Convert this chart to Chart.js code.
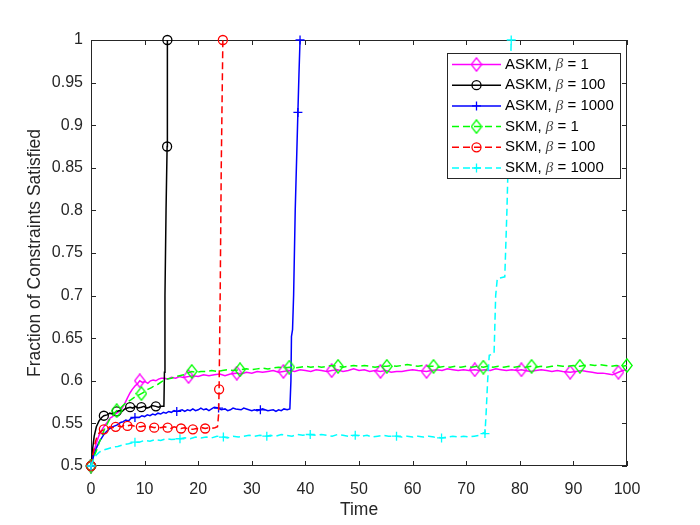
<!DOCTYPE html>
<html>
<head>
<meta charset="utf-8">
<script src="https://cdn.jsdelivr.net/npm/chart.js@4.4.1/dist/chart.umd.min.js"></script>
<style>
  body { margin: 0; background: #fff; }
</style>
</head>
<body>
<canvas id="myChart" width="700" height="525"></canvas>
<script>
// [time, fraction] pairs
const askm1 = [[0,0.500],[0.5,0.516],[1,0.527],[1.5,0.536],[2,0.542],[2.5,0.547],[3,0.551],[3.5,0.556],[4,0.558],[4.5,0.561],[5,0.563],[5.6,0.566],[6.2,0.572],[6.8,0.580],[7.3,0.586],[7.7,0.590],[8.2,0.594],[8.6,0.596],[9.1,0.600],[9.6,0.598],[10.1,0.599],[10.6,0.597],[11.1,0.600],[11.6,0.601],[12.1,0.600],[12.6,0.602],[13.1,0.603],[13.7,0.603],[14.3,0.602],[15,0.604],[15.8,0.603],[16.5,0.605],[17.2,0.604],[18.2,0.605],[19,0.606],[20,0.605],[21,0.607],[22,0.606],[23,0.607],[24,0.608],[25,0.606],[26,0.608],[27.2,0.609],[28,0.608],[29,0.610],[30,0.609],[31,0.611],[32,0.610],[33,0.611],[34,0.612],[35,0.610],[35.9,0.611],[37,0.612],[38,0.611],[39,0.613],[40,0.612],[41,0.611],[42,0.613],[43,0.612],[44,0.611],[44.9,0.612],[46,0.613],[47,0.611],[48,0.612],[49,0.614],[50,0.612],[51,0.613],[52,0.611],[53,0.612],[54,0.611],[55,0.612],[56,0.610],[57,0.611],[58,0.611],[59,0.612],[60,0.613],[61,0.612],[62.6,0.611],[63.5,0.612],[64.5,0.613],[65.5,0.612],[66.5,0.614],[67.5,0.613],[68.5,0.612],[69.5,0.613],[70.5,0.612],[71.6,0.613],[72.5,0.612],[73.5,0.613],[74.5,0.612],[75.5,0.614],[76.5,0.613],[77.5,0.612],[78.5,0.613],[79.5,0.612],[80.3,0.613],[81,0.612],[82,0.611],[83,0.612],[84,0.613],[85,0.612],[86,0.611],[87,0.612],[88,0.611],[89.4,0.610],[90.5,0.611],[91.5,0.612],[92.5,0.611],[93.5,0.610],[94.5,0.609],[95.5,0.609],[96.5,0.608],[97.3,0.607],[98.4,0.610],[99.2,0.612],[100,0.613]];
const askm100 = [[0,0.500],[0.3,0.520],[0.6,0.535],[1,0.546],[1.5,0.553],[2,0.557],[2.4,0.559],[3,0.560],[3.5,0.562],[4,0.561],[4.8,0.564],[5.3,0.565],[5.8,0.564],[6.3,0.567],[6.8,0.568],[7.3,0.569],[7.8,0.568],[8.3,0.570],[8.8,0.568],[9.4,0.569],[9.9,0.570],[10.4,0.568],[10.9,0.569],[11.4,0.571],[12.1,0.570],[12.6,0.569],[13.1,0.570],[13.6,0.570],[13.7,0.610],[13.8,0.700],[14.0,0.800],[14.2,0.875],[14.25,1.000]];
const askm1000 = [[0,0.500],[0.5,0.512],[1,0.521],[1.5,0.528],[2,0.533],[2.5,0.538],[3,0.541],[3.5,0.544],[4,0.546],[4.8,0.548],[5.5,0.551],[6,0.552],[6.5,0.554],[7,0.553],[7.5,0.556],[8.2,0.557],[9,0.557],[9.5,0.559],[10,0.558],[10.5,0.560],[11,0.559],[11.5,0.561],[12,0.560],[12.5,0.562],[13,0.561],[13.5,0.563],[14,0.562],[14.5,0.564],[15,0.563],[15.5,0.565],[16,0.564],[17,0.566],[17.5,0.564],[18,0.566],[18.5,0.565],[19,0.567],[19.5,0.565],[20,0.566],[20.5,0.568],[21,0.566],[21.5,0.567],[22,0.565],[22.5,0.567],[23,0.569],[23.8,0.568],[24.3,0.566],[25,0.567],[25.5,0.565],[26,0.566],[26.5,0.568],[27,0.567],[28,0.566],[28.5,0.568],[29,0.567],[30,0.565],[30.5,0.566],[31,0.565],[31.6,0.566],[32,0.567],[33,0.565],[34,0.566],[34.5,0.564],[35,0.566],[35.5,0.565],[36,0.567],[36.6,0.566],[37.1,0.567],[37.3,0.600],[37.4,0.652],[37.6,0.660],[37.8,0.700],[38.1,0.800],[38.6,0.915],[38.8,0.960],[39.0,1.000]];
const skm1 = [[0,0.500],[0.5,0.510],[1,0.518],[1.5,0.527],[2,0.535],[2.5,0.543],[3,0.549],[3.5,0.555],[4,0.559],[4.8,0.565],[5.5,0.568],[6.3,0.573],[7,0.576],[7.5,0.578],[8.2,0.581],[9.4,0.585],[10,0.587],[10.6,0.590],[11.3,0.592],[12,0.595],[12.5,0.596],[13.2,0.599],[14.1,0.602],[15,0.603],[15.8,0.605],[16.5,0.606],[17.3,0.607],[18,0.609],[18.8,0.611],[19.6,0.610],[20.5,0.611],[21.5,0.611],[22.5,0.612],[23.5,0.611],[24.5,0.612],[25.5,0.613],[26.5,0.612],[27.8,0.613],[29,0.614],[30,0.613],[31,0.614],[32,0.615],[33,0.614],[34,0.615],[35,0.616],[36,0.615],[37,0.616],[38,0.615],[39,0.616],[40,0.617],[41,0.616],[42,0.617],[43,0.616],[44,0.617],[45,0.618],[46.1,0.617],[47,0.616],[48,0.617],[49,0.618],[50,0.617],[51,0.618],[52,0.617],[53,0.616],[54,0.617],[55.2,0.617],[56,0.618],[57,0.617],[58,0.618],[59,0.619],[60,0.618],[61,0.617],[62,0.618],[63,0.617],[63.9,0.617],[65,0.616],[66,0.617],[67,0.616],[68,0.617],[69,0.616],[70,0.617],[71,0.616],[72,0.617],[73.2,0.616],[74,0.617],[75,0.616],[76,0.617],[77,0.616],[78,0.617],[79,0.616],[80,0.617],[81,0.616],[82.2,0.617],[83,0.616],[84,0.617],[85,0.616],[86,0.617],[87,0.618],[88,0.617],[89,0.617],[90,0.618],[91.2,0.617],[92,0.618],[93,0.619],[94,0.618],[95,0.619],[96,0.618],[97,0.617],[98,0.618],[99,0.617],[100,0.618]];
const skm100 = [[0,0.500],[0.4,0.515],[0.8,0.528],[1.2,0.536],[1.7,0.540],[2.4,0.543],[3,0.544],[3.5,0.546],[4,0.545],[4.6,0.546],[5.2,0.547],[5.7,0.546],[6.2,0.548],[6.8,0.547],[7.4,0.548],[8,0.547],[8.6,0.546],[9.3,0.546],[9.9,0.547],[10.5,0.545],[11.2,0.546],[11.8,0.545],[12.4,0.546],[13,0.545],[13.7,0.546],[14.3,0.545],[14.9,0.544],[15.5,0.546],[16.1,0.545],[16.8,0.544],[17.4,0.545],[18,0.544],[18.5,0.543],[19,0.543],[19.6,0.544],[20.2,0.543],[20.7,0.545],[21.3,0.544],[21.9,0.545],[22.5,0.544],[23.1,0.545],[23.6,0.546],[23.8,0.560],[23.9,0.590],[24.1,0.700],[24.3,0.850],[24.6,1.000]];
const skm1000 = [[0,0.500],[0.5,0.508],[1,0.513],[1.5,0.516],[2,0.518],[3,0.520],[4,0.522],[5,0.523],[6,0.525],[7,0.526],[8.2,0.528],[9,0.528],[10,0.530],[11,0.529],[12,0.531],[13,0.530],[14,0.532],[15,0.531],[16.6,0.532],[17.5,0.533],[18.5,0.532],[19.5,0.534],[20.5,0.533],[21.5,0.534],[22.5,0.533],[23.5,0.535],[24.7,0.534],[25.5,0.533],[26.5,0.535],[27.5,0.534],[28.5,0.535],[29.5,0.536],[30.5,0.535],[31.5,0.536],[32.8,0.535],[33.5,0.536],[34.5,0.535],[35.5,0.537],[36.5,0.536],[37.5,0.535],[38.5,0.537],[39.5,0.536],[40.9,0.537],[42,0.536],[43,0.537],[44,0.536],[45,0.535],[46,0.537],[47,0.536],[48,0.535],[49.3,0.536],[50.5,0.535],[51.5,0.536],[52.5,0.534],[53.5,0.535],[54.5,0.536],[55.5,0.535],[57,0.535],[58,0.534],[59,0.535],[60,0.534],[61,0.535],[62,0.534],[63,0.535],[64,0.534],[65.4,0.533],[66.5,0.534],[67.5,0.535],[68.5,0.534],[69.5,0.535],[70.5,0.534],[71.5,0.535],[72.5,0.536],[73.2,0.539],[73.5,0.538],[73.7,0.560],[74.0,0.600],[74.3,0.630],[75.2,0.632],[75.5,0.700],[75.8,0.720],[77.2,0.722],[77.6,0.800],[78.0,0.900],[78.4,1.000]];

// times where a marker sits on each curve
const askm1Marks = [0, 9.1, 18.2, 27.2, 35.9, 44.9, 54, 62.6, 71.6, 80.3, 89.4, 98.4];
const askm100Marks = [0, 2.4, 4.8, 7.3, 9.4, 12.1, 14.2, 14.25];
const askm1000Marks = [0, 8.2, 16, 23.8, 31.6, 38.6, 39.0];
const skm1Marks = [0, 4.8, 9.4, 18.8, 27.8, 37, 46.1, 55.2, 63.9, 73.2, 82.2, 91.2, 100];
const skm100Marks = [0, 2.4, 4.6, 6.8, 9.3, 11.8, 14.3, 16.8, 19, 21.3, 23.9, 24.6];
const skm1000Marks = [0, 8.2, 16.6, 24.7, 32.8, 40.9, 49.3, 57, 65.4, 73.5, 78.4];

const methods = ['ASKM', 'ASKM', 'ASKM', 'SKM', 'SKM', 'SKM'];
const betas = ['1', '100', '1000', '1', '100', '1000'];

const xTicks = [0, 10, 20, 30, 40, 50, 60, 70, 80, 90, 100];
const yTicks = [0.5, 0.55, 0.6, 0.65, 0.7, 0.75, 0.8, 0.85, 0.9, 0.95, 1];

const axisColor = '#262626';
const fontFamily = '"Liberation Sans", Arial, sans-serif';

const seriesList = [askm1, askm100, askm1000, skm1, skm100, skm1000];
const marksList = [askm1Marks, askm100Marks, askm1000Marks, skm1Marks, skm100Marks, skm1000Marks];
const colors = ['#ff00ff', '#000000', '#0000ff', '#00ff00', '#ff0000', '#00ffff'];
const markers = ['diamond', 'circle', 'plus', 'diamond', 'circle', 'plus'];
const dashes = [[], [], [], [7, 4], [7, 4], [7, 4]];

// matlab diamonds are a bit taller than wide, so draw them into a small canvas
function diamondImage(color) {
  const c = document.createElement('canvas');
  c.width = 12; c.height = 15;
  const g = c.getContext('2d');
  g.strokeStyle = color;
  g.lineWidth = 1.3;
  g.beginPath();
  g.moveTo(6, 0.8); g.lineTo(11.2, 7.5); g.lineTo(6, 14.2); g.lineTo(0.8, 7.5); g.closePath();
  g.stroke();
  return c;
}

function pointStyleOf(m, color) {
  if (m === 'diamond') return diamondImage(color);
  if (m === 'plus') return 'cross';
  return 'circle';
}
function radiusOf(m) {
  if (m === 'diamond') return 6;
  if (m === 'plus') return 4.5;
  return 4.5;
}

const datasets = seriesList.map((s, i) => ({
  label: methods[i] + ', \u03b2 = ' + betas[i],
  data: s.map(p => ({ x: p[0], y: p[1] })),
  borderColor: colors[i],
  borderWidth: 1.5,
  borderDash: dashes[i],
  pointStyle: pointStyleOf(markers[i], colors[i]),
  pointBorderColor: colors[i],
  pointBackgroundColor: 'rgba(0,0,0,0)',
  pointBorderWidth: 1.3,
  pointRadius: (c) => marksList[i].includes(c.raw.x) ? radiusOf(markers[i]) : 0,
  pointHoverRadius: 0,
  tension: 0,
  clip: false,
  order: 6 - i
}));

function drawMarker(ctx, kind, x, y, color) {
  ctx.save();
  ctx.strokeStyle = color;
  ctx.lineWidth = 1.3;
  ctx.setLineDash([]);
  if (kind === 'diamond') {
    ctx.drawImage(diamondImage(color), x - 6, y - 7.5);
    ctx.restore();
    return;
  }
  ctx.beginPath();
  const r = radiusOf(kind);
  if (kind === 'plus') {
    ctx.moveTo(x - r, y); ctx.lineTo(x + r, y); ctx.moveTo(x, y - r); ctx.lineTo(x, y + r);
  } else {
    ctx.arc(x, y, r, 0, Math.PI * 2);
  }
  ctx.stroke();
  ctx.restore();
}

// MATLAB style box with inward ticks on all four sides
const boxAxes = {
  id: 'boxAxes',
  beforeDatasetsDraw(chart) {
    const { ctx, chartArea: { left, right, top, bottom }, scales: { x, y } } = chart;
    ctx.save();
    ctx.strokeStyle = axisColor;
    ctx.lineWidth = 1;
    ctx.strokeRect(left + 0.5, top + 0.5, right - left - 1, bottom - top - 1);
    ctx.beginPath();
    xTicks.forEach(v => {
      const px = Math.round(x.getPixelForValue(v)) + 0.5;
      ctx.moveTo(px, bottom); ctx.lineTo(px, bottom - 5);
      ctx.moveTo(px, top); ctx.lineTo(px, top + 5);
    });
    yTicks.forEach(v => {
      const py = Math.round(y.getPixelForValue(v)) + 0.5;
      ctx.moveTo(left, py); ctx.lineTo(left + 5, py);
      ctx.moveTo(right, py); ctx.lineTo(right - 5, py);
    });
    ctx.stroke();
    ctx.restore();
  }
};

const matlabLegend = {
  id: 'matlabLegend',
  afterDraw(chart) {
    const ctx = chart.ctx;
    const bx = 447, by = 53, bw = 173, bh = 125;
    ctx.save();
    ctx.fillStyle = '#ffffff';
    ctx.fillRect(bx, by, bw, bh);
    ctx.strokeStyle = axisColor;
    ctx.lineWidth = 1;
    ctx.strokeRect(bx + 0.5, by + 0.5, bw, bh);
    methods.forEach((m, i) => {
      const yy = 64.5 + i * 20.7;
      ctx.strokeStyle = colors[i];
      ctx.lineWidth = 1.5;
      ctx.setLineDash(dashes[i]);
      ctx.beginPath();
      ctx.moveTo(452, yy); ctx.lineTo(501, yy);
      ctx.stroke();
      drawMarker(ctx, markers[i], 476.5, yy, colors[i]);
      ctx.fillStyle = '#000000';
      ctx.textBaseline = 'middle';
      ctx.textAlign = 'left';
      let tx = 505;
      ctx.font = '15px ' + fontFamily;
      const a = m + ', ';
      ctx.fillText(a, tx, yy);
      tx += ctx.measureText(a).width;
      ctx.font = 'italic 15px "Liberation Serif", serif';
      ctx.fillStyle = '#444444';
      ctx.fillText('\u03b2', tx, yy);
      tx += ctx.measureText('\u03b2').width;
      ctx.fillStyle = '#000000';
      ctx.font = '15px ' + fontFamily;
      ctx.fillText(' = ' + betas[i], tx, yy);
    });
    ctx.restore();
  }
};

new Chart(document.getElementById('myChart'), {
  type: 'line',
  data: { datasets: datasets },
  options: {
    responsive: false,
    animation: false,
    events: [],
    layout: { padding: { left: 0, top: 40, right: 73, bottom: 0 } },
    plugins: {
      legend: { display: false },
      tooltip: { enabled: false },
      title: { display: false }
    },
    scales: {
      x: {
        type: 'linear',
        min: 0,
        max: 100,
        afterBuildTicks: (axis) => { axis.ticks = xTicks.map(v => ({ value: v })); },
        afterFit: (axis) => { axis.height = 59; },
        grid: { display: false, drawTicks: false },
        border: { display: false },
        ticks: { color: axisColor, padding: 14, font: { family: fontFamily, size: 16 }, callback: (v) => String(v) },
        title: { display: true, text: 'Time', color: axisColor, font: { family: fontFamily, size: 17.5 }, padding: { top: 0, bottom: 4 } }
      },
      y: {
        type: 'linear',
        min: 0.5,
        max: 1,
        afterBuildTicks: (axis) => { axis.ticks = yTicks.map(v => ({ value: v })); },
        afterFit: (axis) => { axis.width = 91; },
        grid: { display: false, drawTicks: false },
        border: { display: false },
        ticks: { color: axisColor, padding: 8, font: { family: fontFamily, size: 16 }, callback: (v) => String(+v.toFixed(2)) },
        title: { display: true, text: 'Fraction of Constraints Satisfied', color: axisColor, font: { family: fontFamily, size: 17.5 }, padding: { top: 25, bottom: 0 } }
      }
    }
  },
  plugins: [boxAxes, matlabLegend]
});
</script>
</body>
</html>
